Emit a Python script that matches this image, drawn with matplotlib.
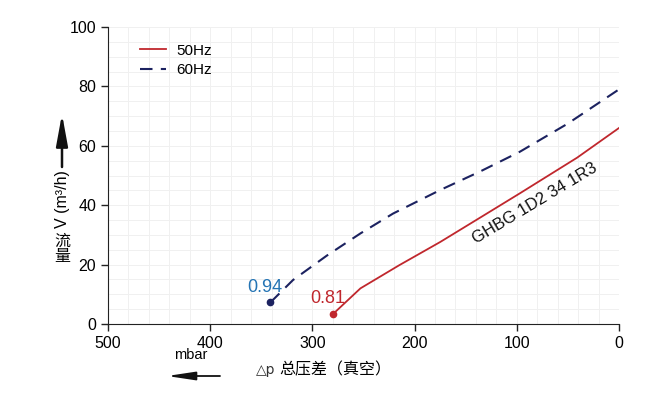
import matplotlib
matplotlib.use("Agg")
import matplotlib.pyplot as plt
from matplotlib.ticker import MultipleLocator

plt.rcParams['font.family'] = ['Liberation Sans', 'Noto Sans CJK SC', 'DejaVu Sans']

# Data
p50 = [280, 253, 215, 175, 135, 97, 41, 0]
v50 = [3.3, 12, 19.8, 27.6, 36, 44, 56, 66]
p60 = [341, 319, 286, 253, 221, 175, 135, 97, 50, 0]
v60 = [7.3, 14.8, 23, 30.5, 37.2, 45.1, 51.5, 58, 67.5, 79]
xticks = [500, 400, 300, 200, 100, 0]
yticks = [0, 20, 40, 60, 80, 100]
red = '#c0272d'
navy = '#1c2260'
blue = '#2474b4'

fig = plt.figure(figsize=(6.5, 3.99), dpi=100)
ax = fig.add_axes([108/650, 1-324/399, (619-108)/650, (324-27)/399])
ax.set_xlim(500, 0)
ax.set_ylim(0, 100)
ax.set_xticks(xticks)
ax.set_yticks(yticks)
ax.xaxis.set_minor_locator(MultipleLocator(20))
ax.yaxis.set_minor_locator(MultipleLocator(5))
ax.grid(which='both', color='#f0f0f0', linewidth=0.7)
ax.tick_params(which='minor', length=0)
ax.tick_params(which='major', length=5, width=1, labelsize=11.5, color='#222222')
for s in ['top', 'right']:
    ax.spines[s].set_visible(False)
for s in ['left', 'bottom']:
    ax.spines[s].set_color('#222222')
ax.set_axisbelow(True)

ax.plot(p50, v50, color=red, lw=1.3, label='50Hz')
ax.plot(p60, v60, color=navy, lw=1.5, ls=(0, (6, 4)), label='60Hz')
ax.plot(p50[0], v50[0], 'o', color=red, ms=4.5)
ax.plot(p60[0], v60[0], 'o', color=navy, ms=4.5)
ax.text(p60[0] + 6, v60[0] + 2, '0.94', color=blue, fontsize=13, ha='center', va='bottom')
ax.text(p50[0] + 5, v50[0] + 2.5, '0.81', color=red, fontsize=13, ha='center', va='bottom')
ax.text(82, 40.5, 'GHBG 1D2 34 1R3', fontsize=12, rotation=31, ha='center', va='center', color='#111111')

leg = ax.legend(loc='upper left', bbox_to_anchor=(0.035, 0.99), frameon=False, fontsize=11,
                handlelength=1.7, handletextpad=0.7, labelspacing=0.35)

# y label
fig.text(62/650, 1-199/399, 'V (m³/h)', rotation=90, fontsize=11.5, ha='center', va='center')
fig.text(62/650, 1-241/399, '流', fontsize=11.5, ha='center', va='center', family=['Noto Sans CJK SC'])
fig.text(62/650, 1-257/399, '量', fontsize=11.5, ha='center', va='center', family=['Noto Sans CJK SC'])
fig.add_artist(matplotlib.patches.FancyArrowPatch((62/650, 1-167/399), (62/650, 1-114/399),
               transform=fig.transFigure, arrowstyle='-|>,head_length=1.2,head_width=0.22',
               color='#111111', lw=1.8, mutation_scale=16, shrinkA=0, shrinkB=0))

# x label
fig.text(191/650, 1-355/399, 'mbar', fontsize=10.5, ha='center', va='center')
fig.add_artist(matplotlib.patches.FancyArrowPatch((220/650, 1-376/399), (167/650, 1-376/399),
               transform=fig.transFigure, arrowstyle='-|>,head_length=1.2,head_width=0.18',
               color='#111111', lw=1.3, mutation_scale=14, shrinkA=0, shrinkB=0))
fig.text(266/650, 1-370/399, '△p', fontsize=10, ha='center', va='center',
         family=['DejaVu Sans'], color='#333333')
fig.text(335/650, 1-370/399, '总压差（真空）', fontsize=11.5, ha='center', va='center',
         family=['Noto Sans CJK SC'])

fig.savefig('out.png', dpi=100)
